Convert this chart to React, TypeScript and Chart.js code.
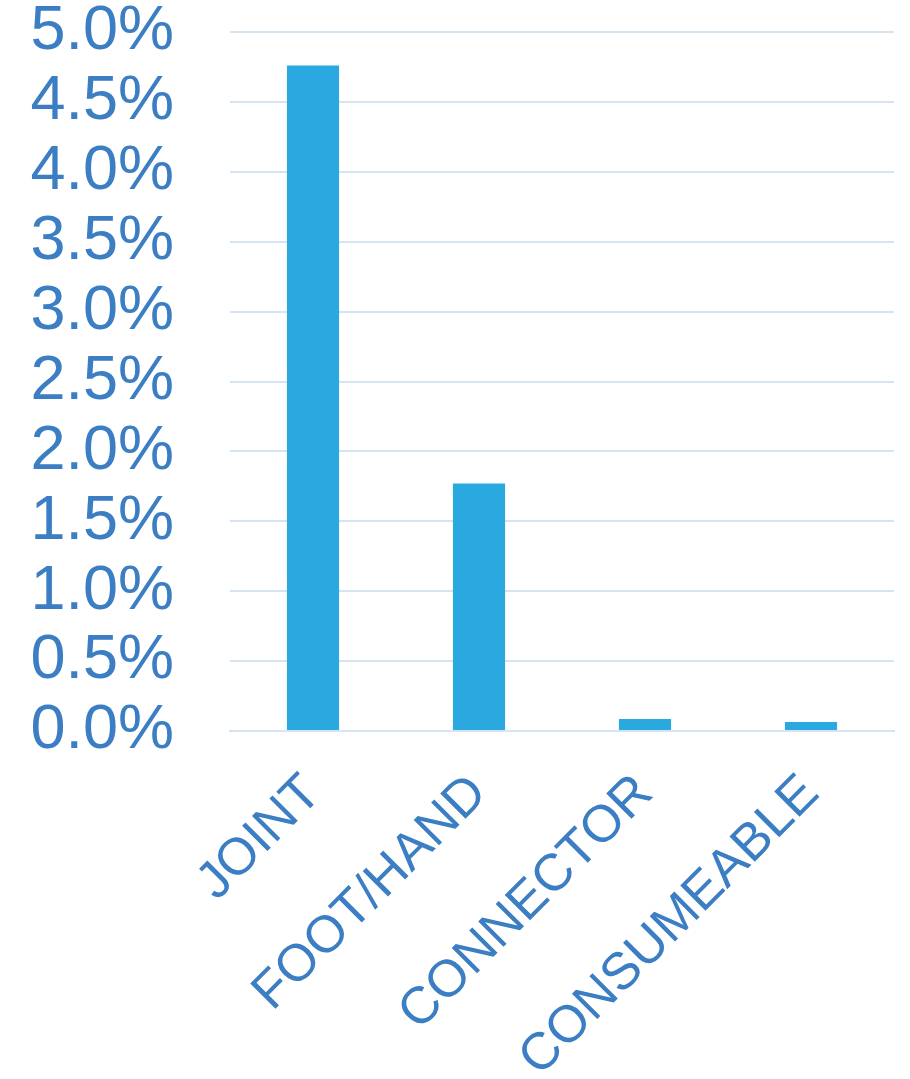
import React, { useEffect, useRef } from "react";
import { Chart, registerables } from "chart.js";

Chart.register(...registerables);

const categories = ["JOINT", "FOOT/HAND", "CONNECTOR", "CONSUMEABLE"];
const values = [4.76, 1.77, 0.086, 0.065];
const yMin = 0;
const yMax = 5;
const yStep = 0.5;

const textColor = "#3B7EC3";
const barColor = "#29A9E0";
const gridColor = "#D6E3F1";

export default function App() {
  const ref = useRef<HTMLCanvasElement | null>(null);

  useEffect(() => {
    if (!ref.current) return;
    const chart = new Chart(ref.current, {
      type: "bar",
      data: {
        labels: categories,
        datasets: [
          {
            data: values,
            backgroundColor: barColor,
            borderWidth: 0,
            categoryPercentage: 1,
            barPercentage: 0.314,
          },
        ],
      },
      options: {
        animation: false,
        responsive: false,
        maintainAspectRatio: false,
        layout: { padding: { top: 32, right: 16, left: 0, bottom: 0 } },
        plugins: { legend: { display: false }, tooltip: { enabled: false } },
        scales: {
          x: {
            grid: { display: false, drawTicks: false },
            border: { display: true, color: gridColor, width: 2 },
            ticks: {
              color: textColor,
              font: { family: "'Liberation Sans', Arial, sans-serif", size: 52 },
              minRotation: 45,
              maxRotation: 45,
              autoSkip: false,
              padding: 32,
            },
            afterFit: (s: any) => {
              s.height = 1079 - 731;
              s.paddingLeft = 0;
              s.paddingRight = 0;
            },
          },
          y: {
            min: yMin,
            max: yMax,
            grid: { color: gridColor, lineWidth: 2, drawTicks: false },
            border: { display: false },
            ticks: {
              stepSize: yStep,
              autoSkip: false,
              color: textColor,
              font: { family: "'Liberation Sans', Arial, sans-serif", size: 63 },
              padding: 56,
              callback: (v: any) => Number(v).toFixed(1) + "%",
            },
            afterFit: (s: any) => {
              s.width = 230;
              s.paddingTop = 0;
              s.paddingBottom = 0;
            },
          },
        },
      },
    });
    return () => chart.destroy();
  }, []);

  return (
    <div style={{ position: "absolute", left: 0, top: 0, width: 910, height: 1079 }}>
      <canvas ref={ref} width={910} height={1079} style={{ width: 910, height: 1079, display: "block" }} />
    </div>
  );
}
